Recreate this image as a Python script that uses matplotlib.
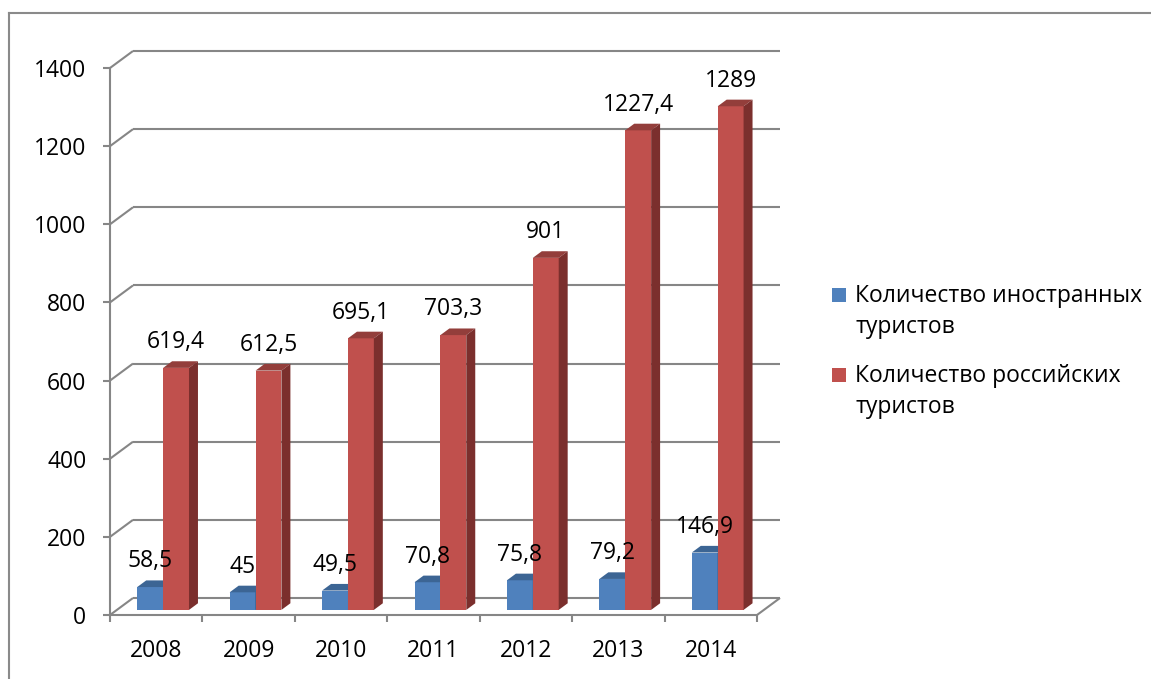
import numpy as np
import matplotlib
matplotlib.use("Agg")
import matplotlib.pyplot as plt
from matplotlib.patches import Polygon, Rectangle
from matplotlib.lines import Line2D
from matplotlib.transforms import Affine2D, IdentityTransform

years = ["2008", "2009", "2010", "2011", "2012", "2013", "2014"]
foreign = [58.5, 45, 49.5, 70.8, 75.8, 79.2, 146.9]
russian = [619.4, 612.5, 695.1, 703.3, 901, 1227.4, 1289]
labels = ["Количество иностранных\nтуристов", "Количество российских\nтуристов"]
yticks = [0, 200, 400, 600, 800, 1000, 1200, 1400]

W, H = 1151, 679
plt.rcParams['font.family'] = ['Open Sans', 'DejaVu Sans']
fs = 16.5

fig = plt.figure(figsize=(W / 100, H / 100), dpi=100)
fig.patch.set_facecolor("white")

# front plane of the 3D box, in pixels
ax = fig.add_axes([110 / W, (H - 615) / H, 647 / W, 547 / H])
ax.set_xlim(-0.5, 6.5)
ax.set_ylim(0, 1400)
ax.patch.set_alpha(0)

grid_c = "#868686"
DX, DY = 23, 17          # full depth of the box in pixels
BD = 0.3                 # depth of the bar front faces (fraction)
BT = 0.39                # bar thickness in depth (fraction)


def proj(x, y, d):
    p = ax.transData.transform((x, y))
    return (p[0] + d * DX, p[1] + d * DY)


def line(p1, p2):
    ax.add_artist(Line2D([p1[0], p2[0]], [p1[1], p2[1]], transform=IdentityTransform(),
                         color=grid_c, lw=1.5, zorder=0.5, clip_on=False,
                         solid_capstyle="butt"))


# back wall grid + side diagonals
for v in yticks:
    line(proj(-0.5, v, 0), proj(-0.5, v, 1))
    line(proj(-0.5, v, 1), proj(6.5, v, 1))
line(proj(6.5, 0, 0), proj(6.5, 0, 1))

for s in ["top", "right"]:
    ax.spines[s].set_visible(False)
for s in ["left", "bottom"]:
    ax.spines[s].set_color(grid_c)
    ax.spines[s].set_linewidth(1.5)

ax.set_yticks(yticks)
ax.set_yticklabels([str(v) for v in yticks], fontsize=fs)
ax.tick_params(axis="y", length=5, width=1.5, color=grid_c, pad=12)
x = np.arange(len(years))
ax.set_xticks(x)
ax.set_xticklabels(years, fontsize=fs)
ax.set_xticks(np.arange(-0.5, 7, 1), minor=True)
ax.tick_params(axis="x", which="major", length=0, pad=17)
ax.tick_params(axis="x", which="minor", length=5, width=1.5, color=grid_c)

# bars
w = 0.28
shift = ax.transData + Affine2D().translate(BD * DX, BD * DY)
series = [
    (foreign, x - w / 2, "#4f81bd", "#3c6594", "#2f5078", 3),
    (russian, x + w / 2, "#c0504d", "#933e3b", "#7b2f2d", 4),
]
for vals, xs, c_front, c_top, c_side, z in series:
    ax.bar(xs, vals, w, color=c_front, transform=shift, zorder=z, clip_on=False)
    for xc, v in zip(xs, vals):
        l, r = xc - w / 2, xc + w / 2
        top = [proj(l, v, BD), proj(r, v, BD), proj(r, v, BD + BT), proj(l, v, BD + BT)]
        side = [proj(r, 0, BD), proj(r, v, BD), proj(r, v, BD + BT), proj(r, 0, BD + BT)]
        ax.add_patch(Polygon(top, closed=True, transform=IdentityTransform(),
                             facecolor=c_top, edgecolor="none", zorder=z, clip_on=False))
        ax.add_patch(Polygon(side, closed=True, transform=IdentityTransform(),
                             facecolor=c_side, edgecolor="none", zorder=z, clip_on=False))
        txt = ("%g" % v).replace(".", ",")
        ax.annotate(txt, xy=(xc, v), xycoords=shift, xytext=(0, 18.5),
                    textcoords="offset points", ha="center", va="center",
                    fontsize=fs, zorder=6, annotation_clip=False)

# legend
for i, (lab, col) in enumerate(zip(labels, ["#4f81bd", "#c0504d"])):
    ytop = 288 + i * 80
    fig.add_artist(Rectangle((832, H - ytop - 14), 14, 14, transform=IdentityTransform(),
                             facecolor=col, edgecolor="none"))
    fig.text(855 / W, (H - ytop + 4) / H, lab, fontsize=fs, va="top", ha="left",
             linespacing=1.4)

# outer frame
fig.add_artist(Line2D([9 / W, 1.0], [(H - 13) / H] * 2, color="#8a8a8a", lw=1.5))
fig.add_artist(Line2D([9 / W] * 2, [0, (H - 13) / H], color="#8a8a8a", lw=1.5))

fig.savefig("out.png", dpi=100)
